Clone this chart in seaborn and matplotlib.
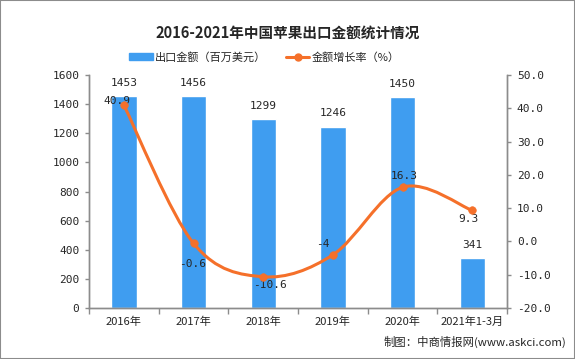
import matplotlib
matplotlib.use("Agg")
import matplotlib.pyplot as plt
import seaborn as sns
import pandas as pd
from matplotlib.path import Path
from matplotlib.patches import PathPatch, Patch, Rectangle
from matplotlib.lines import Line2D

# Chart data
years = ["2016年", "2017年", "2018年", "2019年", "2020年", "2021年1-3月"]
export_value = [1453, 1456, 1299, 1246, 1450, 341]
growth_rate = [40.9, -0.6, -10.6, -4, 16.3, 9.3]
growth_labels = ["40.9", "-0.6", "-10.6", "-4", "16.3", "9.3"]

bar_color = "#3F9DF0"
line_color = "#F5702A"
num_font = ["DejaVu Sans Mono"]

sns.set_theme(style="white")
plt.rcParams["font.family"] = ["Noto Sans CJK SC", "DejaVu Sans"]

fig = plt.figure(figsize=(5.75, 3.59), dpi=100)
ax = fig.add_axes([0.155, 0.142, 0.727, 0.649])

df = pd.DataFrame({"year": years, "value": export_value})
sns.barplot(data=df, x="year", y="value", color=bar_color, width=0.36,
            saturation=1, ax=ax)
ax.set_xlim(-0.5, 5.5)
ax.set_ylim(0, 1600)
ax.set_yticks(range(0, 1601, 200))
ax.set_xlabel("")
ax.set_ylabel("")

for i, v in enumerate(export_value):
    ax.annotate(str(v), (i, v), xytext=(0, 6), textcoords="offset points",
                ha="center", va="bottom", fontsize=8, family=num_font)

# growth line on the right axis, smoothed with Catmull-Rom style beziers
ax2 = ax.twinx()
ax2.set_ylim(-20, 50)
ax2.set_yticks(range(-20, 51, 10))
ax2.set_yticklabels([f"{t:.1f}" for t in range(-20, 51, 10)])

xs = list(range(len(growth_rate)))
pts = list(zip(xs, growth_rate))
verts = [pts[0]]
codes = [Path.MOVETO]
for i in range(len(pts) - 1):
    p0 = pts[i - 1] if i > 0 else pts[i]
    p1 = pts[i]
    p2 = pts[i + 1]
    p3 = pts[i + 2] if i + 2 < len(pts) else pts[i + 1]
    c1 = (p1[0] + (p2[0] - p0[0]) / 6, p1[1] + (p2[1] - p0[1]) / 6)
    c2 = (p2[0] - (p3[0] - p1[0]) / 6, p2[1] - (p3[1] - p1[1]) / 6)
    verts += [c1, c2, p2]
    codes += [Path.CURVE4] * 3
ax2.add_patch(PathPatch(Path(verts, codes), facecolor="none",
                        edgecolor=line_color, lw=2.2, zorder=3))
sns.scatterplot(x=xs, y=growth_rate, color=line_color, s=30, edgecolor=line_color,
                ax=ax2, zorder=4)

# label offsets in points, per data label
offsets = [(-5, 3), (-1, -15), (5, -6), (-7, 8), (1, 8), (-3, -6)]
for i, (v, lab) in enumerate(zip(growth_rate, growth_labels)):
    ax2.annotate(lab, (i, v), xytext=offsets[i], textcoords="offset points",
                 ha="center", va="center", fontsize=8, family=num_font)

# axes styling
for a in (ax, ax2):
    a.spines["top"].set_visible(False)
    for s in ("left", "right", "bottom"):
        a.spines[s].set_color("#8C8C8C")
        a.spines[s].set_linewidth(1)
ax.tick_params(axis="y", length=3, width=1, color="#8C8C8C", labelsize=8,
               left=True, pad=4)
ax2.tick_params(axis="y", length=3, width=1, color="#8C8C8C", labelsize=8,
                right=True, pad=4)
for lab in ax.get_yticklabels() + ax2.get_yticklabels():
    lab.set_family(num_font)
ax.tick_params(axis="x", length=0, labelsize=8, pad=6)
ax.set_xticks([x + 0.5 for x in range(-1, 6)], minor=True)
ax.tick_params(axis="x", which="minor", length=4, width=1, color="#8C8C8C",
               bottom=True)

fig.text(0.5, 0.905, "2016-2021年中国苹果出口金额统计情况", ha="center",
         va="center", fontsize=10.5, fontweight="bold")

handles = [Patch(color=bar_color),
           Line2D([0], [0], color=line_color, lw=2.2, marker="o", markersize=5)]
fig.legend(handles, ["出口金额（百万美元）", "金额增长率（%）"], loc="center",
           bbox_to_anchor=(0.46, 0.84), ncol=2, frameon=False, fontsize=8,
           handlelength=2.1, handleheight=0.6, columnspacing=1.8,
           handletextpad=0.2)

fig.text(0.985, 0.047, "制图：中商情报网(www.askci.com)", ha="right",
         va="center", fontsize=8.2)

fig.patches.append(Rectangle((0, 0), 1, 1, transform=fig.transFigure,
                             fill=False, edgecolor="#8C8C8C", lw=1.5))

fig.savefig("out.png", dpi=100)
